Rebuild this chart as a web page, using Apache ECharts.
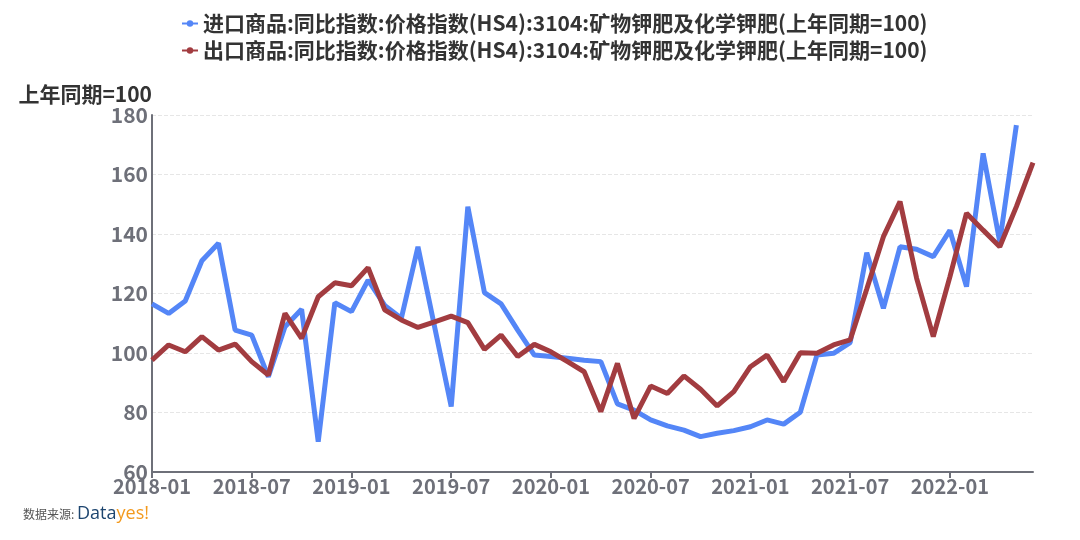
<!DOCTYPE html>
<html><head><meta charset="utf-8">
<script src="https://cdn.jsdelivr.net/npm/echarts@6/dist/echarts.min.js"></script>
<style>html,body{margin:0;padding:0;background:#fff}#c{width:1080px;height:540px}</style>
</head><body><div id="c"></div>
<script>
const categories = (function(){const a=[];for(let y=2018;y<=2022;y++){for(let m=1;m<=12;m++){if(y===2022&&m>6)break;a.push(y+'-'+String(m).padStart(2,'0'));}}return a;})();
const importName = '进口商品:同比指数:价格指数(HS4):3104:矿物钾肥及化学钾肥(上年同期=100)';
const exportName = '出口商品:同比指数:价格指数(HS4):3104:矿物钾肥及化学钾肥(上年同期=100)';
const importValues = [116.5,113.3,117.5,131,136.9,107.7,106,92,108.8,114.7,70.2,116.9,113.9,124.5,116,111.7,135.7,108.8,82,149.2,120.3,116.5,107.7,99.3,98.8,98.2,97.6,97.1,82.9,80.8,77.5,75.5,74.1,71.9,73,73.9,75.2,77.5,76.1,80.1,99.3,99.9,103.5,133.7,115,135.7,134.9,132.4,141.2,122.3,167.1,137.4,176.6,null];
const exportValues = [97.6,102.7,100.4,105.5,101,103,97.1,92.6,113.3,104.9,118.9,123.6,122.6,128.7,114.5,111.1,108.6,110.5,112.4,110.2,101.2,106,98.8,102.9,100.4,97.1,93.7,80.3,96.5,78,88.9,86.4,92.3,87.8,82.2,87,95.4,99.3,90.4,100.1,99.9,102.7,104.4,121.5,139.1,150.9,125.1,105.5,125.6,147,141.3,135.7,149.2,164];
const yTicks = {min:60,max:180,interval:20};
const yName = '上年同期=100';
const FONT = '"Noto Sans CJK SC","Noto Sans",sans-serif';
const chart = echarts.init(document.getElementById('c'),null,{renderer:'canvas'});
chart.setOption({
  animation:false,
  textStyle:{fontFamily:FONT},
  legend:{orient:'vertical',left:176,top:8,itemGap:6,itemWidth:16,itemHeight:8,
    textStyle:{fontFamily:FONT,fontSize:21,fontWeight:'bold',color:'#333'},
    data:[{name:importName},{name:exportName}]},
  grid:{left:152,right:47,top:115,bottom:68},
  xAxis:{type:'category',data:categories,boundaryGap:false,
    axisLine:{lineStyle:{color:'#6e7079',width:2}},
    axisTick:{interval:5,length:6,lineStyle:{color:'#6e7079',width:2}},
    axisLabel:{interval:5,fontFamily:FONT,fontSize:20,fontWeight:'bold',color:'#6e7079',margin:4},
    splitLine:{show:false}},
  yAxis:{type:'value',min:yTicks.min,max:yTicks.max,interval:yTicks.interval,
    name:yName,nameLocation:'end',nameGap:10,
    nameTextStyle:{fontFamily:FONT,fontSize:21,fontWeight:'bold',color:'#333',align:'right'},
    axisLine:{show:true,lineStyle:{color:'#6e7079',width:2}},
    axisTick:{show:false},
    axisLabel:{fontFamily:FONT,fontSize:21,fontWeight:'bold',color:'#6e7079',margin:4},
    splitLine:{show:true,lineStyle:{color:'#e6e6e6',type:'dashed',width:1}}},
  series:[
    {name:importName,type:'line',data:importValues,symbol:'circle',symbolSize:6,showSymbol:false,
      lineStyle:{width:5,color:'#5486f7'},itemStyle:{color:'#5486f7'}},
    {name:exportName,type:'line',data:exportValues,symbol:'circle',symbolSize:6,showSymbol:false,
      lineStyle:{width:5,color:'#a23c40'},itemStyle:{color:'#a23c40'}}
  ],
  graphic:[{type:'text',left:23,top:505,style:{
    text:'{a|数据来源: }{b|Data}{c|yes!}',
    rich:{a:{fontFamily:FONT,fontSize:12,fill:'#555'},
          b:{fontFamily:'"Open Sans",sans-serif',fontSize:18,fill:'#1d456f'},
          c:{fontFamily:'"Open Sans",sans-serif',fontSize:18,fill:'#f39a1e'}}}}]
});
</script></body></html>
